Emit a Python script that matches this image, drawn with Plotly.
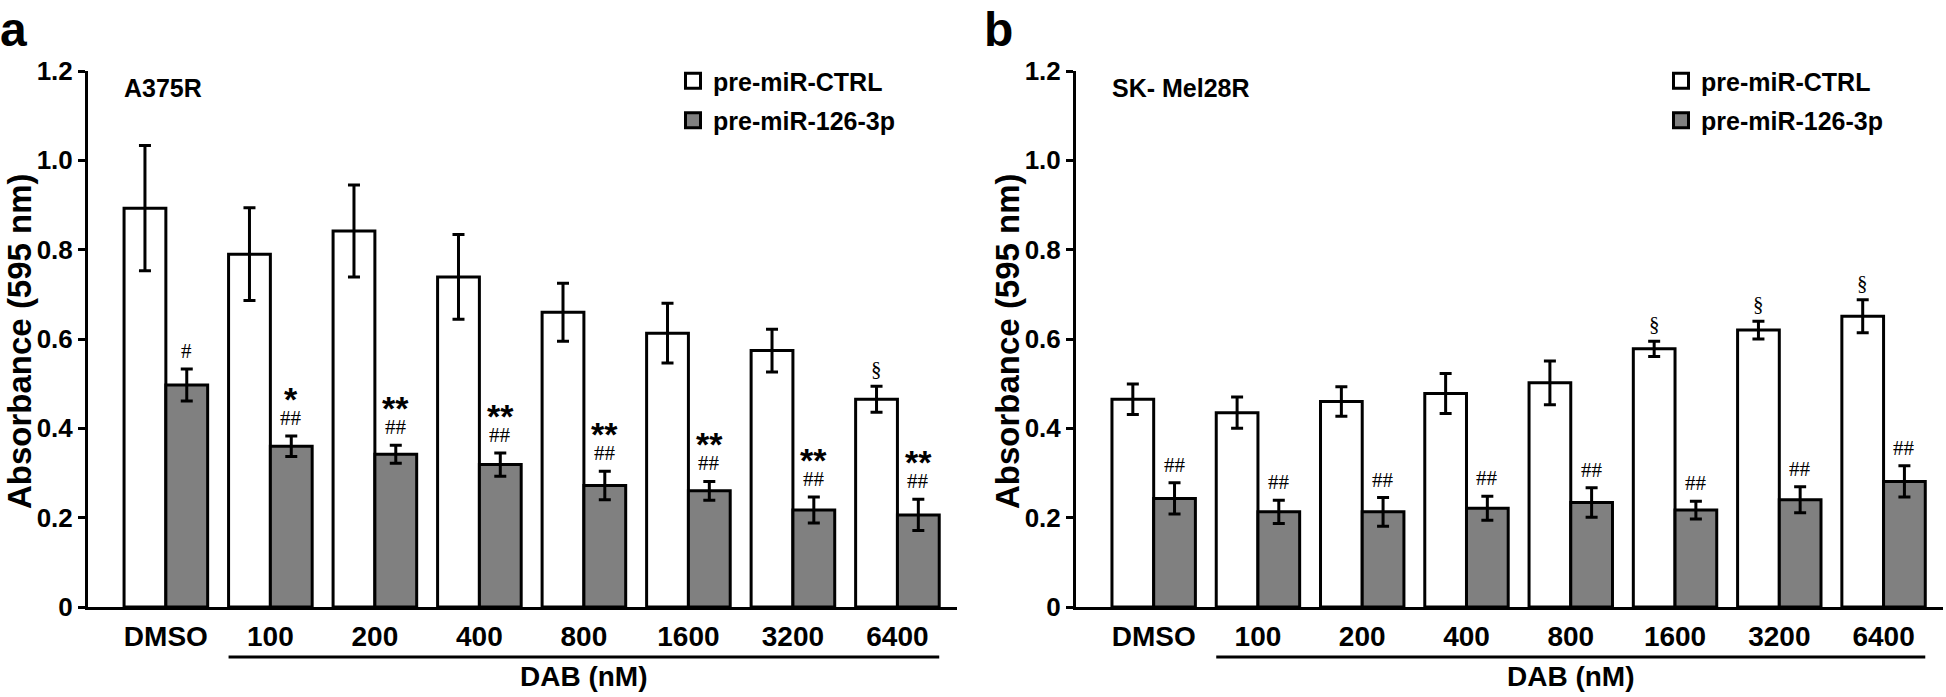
import plotly.graph_objects as go

categories = ["DMSO", "100", "200", "400", "800", "1600", "3200", "6400"]
series_names = ["pre-miR-CTRL", "pre-miR-126-3p"]

# Panel a: A375R
a_ctrl = [0.893, 0.790, 0.842, 0.739, 0.660, 0.613, 0.574, 0.465]
a_ctrl_err = [0.140, 0.104, 0.103, 0.095, 0.065, 0.067, 0.048, 0.029]
a_mir = [0.497, 0.360, 0.342, 0.319, 0.272, 0.260, 0.217, 0.206]
a_mir_err = [0.036, 0.023, 0.020, 0.026, 0.032, 0.021, 0.029, 0.035]
a_ctrl_marks = ["", "", "", "", "", "", "", "§"]
a_mir_hash = ["#", "##", "##", "##", "##", "##", "##", "##"]
a_mir_star = ["", "*", "**", "**", "**", "**", "**", "**"]

# Panel b: SK-Mel28R
b_ctrl = [0.465, 0.435, 0.460, 0.478, 0.502, 0.578, 0.620, 0.651]
b_ctrl_err = [0.034, 0.035, 0.033, 0.045, 0.049, 0.017, 0.020, 0.037]
b_mir = [0.243, 0.213, 0.213, 0.221, 0.234, 0.217, 0.240, 0.281]
b_mir_err = [0.035, 0.026, 0.032, 0.027, 0.033, 0.020, 0.029, 0.035]
b_ctrl_marks = ["", "", "", "", "", "§", "§", "§"]
b_mir_hash = ["##"] * 8
b_mir_star = [""] * 8

y_ticks = [0, 0.2, 0.4, 0.6, 0.8, 1.0, 1.2]
y_ticktext = ["0", "0.2", "0.4", "0.6", "0.8", "1.0", "1.2"]
panel_titles = ["A375R", "SK- Mel28R"]
panel_letters = ["a", "b"]
y_title = "Absorbance (595 nm)"
x_group_title = "DAB (nM)"

W, H = 1946, 697
MT, MB = 71, 90
plot_h = H - MT - MB
dom_a = [88 / W, 957 / W]
dom_b = [1076 / W, 1943 / W]


def py(pix):
    """pixel row (from figure top) -> paper y"""
    return ((H - MB) - pix) / plot_h


SANS = "Liberation Sans, Arial, sans-serif"
SERIF = "Liberation Serif, Times New Roman, serif"
GRAY = "#808080"

fig = go.Figure()
xs = list(range(len(categories)))

panels = [
    ("x", "y", "legend", a_ctrl, a_ctrl_err, a_mir, a_mir_err, a_ctrl_marks, a_mir_hash, a_mir_star),
    ("x2", "y2", "legend2", b_ctrl, b_ctrl_err, b_mir, b_mir_err, b_ctrl_marks, b_mir_hash, b_mir_star),
]

annotations = []
shapes = []
for pi, (xa, ya, leg, ctrl, ctrl_e, mir, mir_e, cmarks, mhash, mstar) in enumerate(panels):
    for si, (name, vals, errs, color) in enumerate([(series_names[0], ctrl, ctrl_e, "white"),
                                                    (series_names[1], mir, mir_e, GRAY)]):
        fig.add_trace(go.Bar(
            x=xs, y=vals, name=name, xaxis=xa, yaxis=ya, showlegend=False,
            legendgroup=f"{leg}_{si}",
            marker=dict(color=color, line=dict(color="black", width=3)),
            error_y=dict(type="data", array=errs, visible=True, color="black",
                         thickness=3, width=6),
        ))
        # legend swatch (square marker, larger than the default bar swatch)
        fig.add_trace(go.Scatter(
            x=[None], y=[None], name=name, xaxis=xa, yaxis=ya, legend=leg,
            legendgroup=f"{leg}_{si}", mode="markers", showlegend=True,
            marker=dict(symbol="square", size=15, color=color,
                        line=dict(color="black", width=3)),
            hoverinfo="skip",
        ))
    for i in xs:
        if cmarks[i]:
            annotations.append(dict(x=i - 0.2, y=ctrl[i] + ctrl_e[i], xref=xa, yref=ya,
                                    text=cmarks[i], showarrow=False, yanchor="bottom",
                                    yshift=3, font=dict(family=SERIF, size=21, color="black")))
        if mhash[i]:
            annotations.append(dict(x=i + 0.2, y=mir[i] + mir_e[i], xref=xa, yref=ya,
                                    text=mhash[i], showarrow=False, yanchor="bottom",
                                    yshift=4, font=dict(family=SERIF, size=21, color="black")))
        if mstar[i]:
            annotations.append(dict(x=i + 0.2, y=mir[i] + mir_e[i], xref=xa, yref=ya,
                                    text=mstar[i], showarrow=False, yanchor="bottom",
                                    yshift=16, font=dict(family=SANS, size=34, color="black", weight="bold")))
    # DAB underline and label
    shapes.append(dict(type="line", xref=xa, yref="paper", x0=0.6, x1=7.4,
                       y0=py(657), y1=py(657), line=dict(color="black", width=3)))
    annotations.append(dict(x=4.0, y=py(676), xref=xa, yref="paper",
                            text=x_group_title, showarrow=False, yanchor="middle",
                            font=dict(family=SANS, size=28, color="black", weight="bold")))

# panel titles / letters / y titles
title_x = [122, 1110]
letter_x = [-2, 982]
ytitle_x = [19, 1007]
for k in range(2):
    annotations.append(dict(x=title_x[k] / W, y=py(88), xref="paper", yref="paper",
                            text=panel_titles[k], showarrow=False, xanchor="left", yanchor="middle",
                            font=dict(family=SANS, size=25, color="black", weight="bold")))
    annotations.append(dict(x=letter_x[k] / W, y=py(1), xref="paper", yref="paper",
                            text=panel_letters[k], showarrow=False, xanchor="left", yanchor="top",
                            font=dict(family=SANS, size=48, color="black", weight="bold")))
    annotations.append(dict(x=ytitle_x[k] / W, y=py(341), xref="paper", yref="paper",
                            text=y_title, showarrow=False, xanchor="center", yanchor="middle",
                            textangle=-90,
                            font=dict(family=SANS, size=33, color="black", weight="bold")))

xaxis_common = dict(
    range=[-0.745, 7.57], tickmode="array", tickvals=xs, ticktext=categories,
    showline=True, linewidth=3, linecolor="black", ticks="", showgrid=False,
    zeroline=False, ticklabelstandoff=2,
    tickfont=dict(family=SANS, size=28, color="black", weight="bold"),
    fixedrange=True,
)
yaxis_common = dict(
    range=[0, 1.2], tickmode="array", tickvals=y_ticks, ticktext=y_ticktext,
    showline=True, linewidth=3, linecolor="black", ticks="outside", ticklen=7,
    tickwidth=3, tickcolor="black", showgrid=False, zeroline=False,
    tickfont=dict(family=SANS, size=26, color="black", weight="bold"),
    ticklabelstandoff=0,
)

legend_common = dict(
    font=dict(family=SANS, size=25, color="black", weight="bold"),
    bgcolor="rgba(0,0,0,0)", xanchor="left", yanchor="top", tracegroupgap=4,
    itemsizing="trace",
)

fig.update_layout(
    width=W, height=H,
    margin=dict(l=0, r=0, t=MT, b=MB, pad=0, autoexpand=False),
    paper_bgcolor="white", plot_bgcolor="white",
    barmode="group", bargap=0.2, bargroupgap=0.0,
    xaxis=dict(domain=dom_a, anchor="y", **xaxis_common),
    yaxis=dict(domain=[0, 1], anchor="x", **yaxis_common),
    xaxis2=dict(domain=dom_b, anchor="y2", **xaxis_common),
    yaxis2=dict(domain=[0, 1], anchor="x2", **yaxis_common),
    legend=dict(x=673 / W, y=py(58), **legend_common),
    legend2=dict(x=1661 / W, y=py(58), **legend_common),
    annotations=annotations, shapes=shapes,
    showlegend=True,
)

fig.write_html(
    "out.html",
    config={"displayModeBar": False},
    post_script="document.body.style.margin='0px';document.body.style.overflow='hidden';",
)
